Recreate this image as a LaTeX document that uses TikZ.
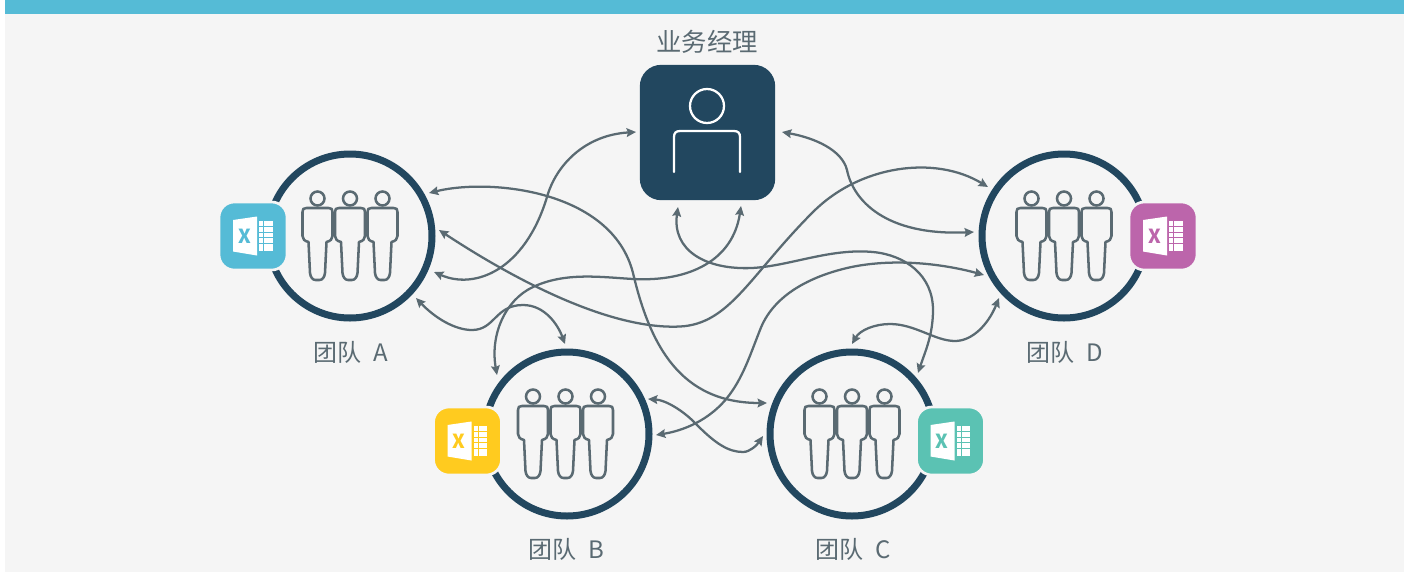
\documentclass[tikz,border=0pt]{standalone}
\usepackage{fontspec}
\setmainfont{Noto Sans CJK SC}
\usetikzlibrary{arrows.meta}
\definecolor{bandc}{HTML}{55BBD6}
\definecolor{pagec}{HTML}{F5F5F5}
\definecolor{navy}{HTML}{22475F}
\definecolor{slate}{HTML}{5A6A72}
\definecolor{xlblue}{HTML}{55BBD6}
\definecolor{xlyellow}{HTML}{FFCB1F}
\definecolor{xlteal}{HTML}{5BC2B3}
\definecolor{xlpurple}{HTML}{BC65AB}
\tikzset{
  px/.style={x=0.75pt,y=-0.75pt},
  teamring/.style={circle,draw=navy,line width=5.25pt,minimum size=123pt,inner sep=0pt},
  label/.style={text=slate,font=\fontsize{18pt}{20pt}\selectfont,inner sep=0pt},
  link/.style={draw=slate,line width=1.7pt,{Stealth[length=7pt,width=6.5pt,inset=1pt]}-{Stealth[length=7pt,width=6.5pt,inset=1pt]}},
  person/.pic={
    \draw[slate,line width=1.9pt] (0,-37.5) circle[radius=7];
    \draw[slate,line width=1.9pt,line join=round]
      (-11,-28) -- (11,-28) .. controls (14,-28) and (15,-27) .. (15,-24) -- (15,0)
      .. controls (15,3) and (13,5) .. (9,6) -- (7.5,37)
      .. controls (7,41) and (5,44) .. (2,44) -- (-2,44)
      .. controls (-5,44) and (-7,41) .. (-7.5,37) -- (-9,6)
      .. controls (-13,5) and (-15,3) .. (-15,0) -- (-15,-24)
      .. controls (-15,-27) and (-14,-28) .. (-11,-28) -- cycle;
  },
  crew/.pic={
    \pic at (-32.5,0) {person};
    \pic at (0,0) {person};
    \pic at (32.5,0) {person};
  },
  pics/xl/.style={code={
    \fill[#1,draw=pagec,line width=2pt,rounded corners=11.5pt] (-34,-34) rectangle (34,34);
    \fill[white] (-20,-16) -- (4,-19.5) -- (4,19.5) -- (-20,15.5) -- cycle;
    \fill[white] (6,-15) rectangle (19.5,14.5);
    \foreach \yy in {-9.5,-4,1.5,7}{\draw[#1,line width=.7pt] (6,\yy) -- (19.5,\yy);}
    \draw[#1,line width=.7pt] (10.5,-15) -- (10.5,14.5);
    \node[text=#1,font=\bfseries\fontsize{14.5pt}{15pt}\selectfont,inner sep=0pt] at (-8.5,0) {X};
  }},
}
\newcommand{\wgap}{\hspace{5pt}}
\begin{document}
\begin{tikzpicture}[px]
\useasboundingbox (0,0) rectangle (1411,572);
\fill[white] (0,0) rectangle (1411,572);
\fill[pagec] (5,0) rectangle (1404,572);
\fill[bandc] (5,0) rectangle (1404,14);

% manager
\node[draw=none,fill=navy,rounded corners=16pt,minimum size=101.5pt,inner sep=0pt] (mgr) at (707.5,132.5) {};
\draw[white,line width=1.7pt] (707,106) circle[radius=17];
\draw[white,line width=1.7pt,line cap=round] (674,172) -- (674,137) .. controls (674,133) and (676,131) .. (680,131) -- (734,131) .. controls (738,131) and (740,133) .. (740,137) -- (740,172);
\node[label,font=\fontsize{19pt}{22pt}\selectfont] (mgrt) at (707,42) {业务经理};

% teams
\node[teamring] (ta) at (350,236) {};
\node[teamring] (tb) at (567,434) {};
\node[teamring] (tc) at (852,434) {};
\node[teamring] (td) at (1064,236) {};
\pic at (350,236) {crew};
\pic at (565.5,434) {crew};
\pic at (852,434) {crew};
\pic at (1064,236) {crew};
\pic at (253,236) {xl=xlblue};
\pic at (467.5,441) {xl=xlyellow};
\pic at (950.5,441) {xl=xlteal};
\pic at (1163,236) {xl=xlpurple};
\node[label] (la) at (351,352) {团队\wgap{} A};
\node[label] (lb) at (566,549) {团队\wgap{} B};
\node[label] (lc) at (853,549) {团队\wgap{} C};
\node[label] (ld) at (1065,352) {团队\wgap{} D};

% connector ends
\coordinate (a1) at (429,193); \coordinate (c1) at (767,403);
\coordinate (a2) at (434,272); \coordinate (m1) at (636,132);
\coordinate (a3) at (439,230); \coordinate (d1) at (988,187);
\coordinate (a4) at (416,298); \coordinate (b1) at (565,344);
\coordinate (m2) at (741,206); \coordinate (b2) at (497,375);
\coordinate (m3) at (678,207); \coordinate (c3) at (918,373);
\coordinate (m4) at (782,132); \coordinate (d3) at (974,232);
\coordinate (d4) at (999,298); \coordinate (c2) at (852,344);
\coordinate (b3) at (656,435); \coordinate (d2) at (984,275);
\coordinate (b4) at (648,399); \coordinate (c4) at (763,436);

\draw[link] (a1) .. controls (490,178) and (612,190) .. (633,273) .. controls (650,345) and (680,403) .. (c1);
\draw[link] (a2) .. controls (475,290) and (525,270) .. (547,197) .. controls (556,165) and (585,135) .. (m1);
\draw[link] (a3) .. controls (515,280) and (610,330) .. (680,326.5) .. controls (730,324) and (750,275) .. (813,212) .. controls (860,165) and (935,155) .. (d1);
\draw[link] (a4) .. controls (435,318) and (455,330) .. (472,330) .. controls (495,330) and (495,305) .. (523,305) .. controls (545,305) and (558,325) .. (b1);
\draw[link] (m2) .. controls (733,260) and (690,282) .. (633,279) .. controls (600,277) and (565,272) .. (533,287) .. controls (505,300) and (490,335) .. (b2);
\draw[link] (m3) .. controls (672,250) and (705,270) .. (752,268) .. controls (790,266) and (830,248) .. (873,252) .. controls (905,255) and (933,275) .. (933,310) .. controls (933,335) and (925,352) .. (c3);
\draw[link] (m4) .. controls (815,138) and (842,150) .. (847,170) .. controls (853,200) and (885,236) .. (d3);
\draw[link] (d4) .. controls (988,325) and (972,341) .. (955,341) .. controls (935,341) and (915,324) .. (890,324) .. controls (875,324) and (860,330) .. (c2);
\draw[link] (b3) .. controls (675,432) and (705,425) .. (727,398) .. controls (743,378) and (750,355) .. (760,330) .. controls (772,298) and (805,278) .. (847,268) .. controls (890,258) and (940,263) .. (d2);
\draw[link] (b4) .. controls (665,400) and (683,410) .. (697,425) .. controls (715,443) and (728,452) .. (743,452) .. controls (750,452) and (757,445) .. (c4);
\end{tikzpicture}
\end{document}
